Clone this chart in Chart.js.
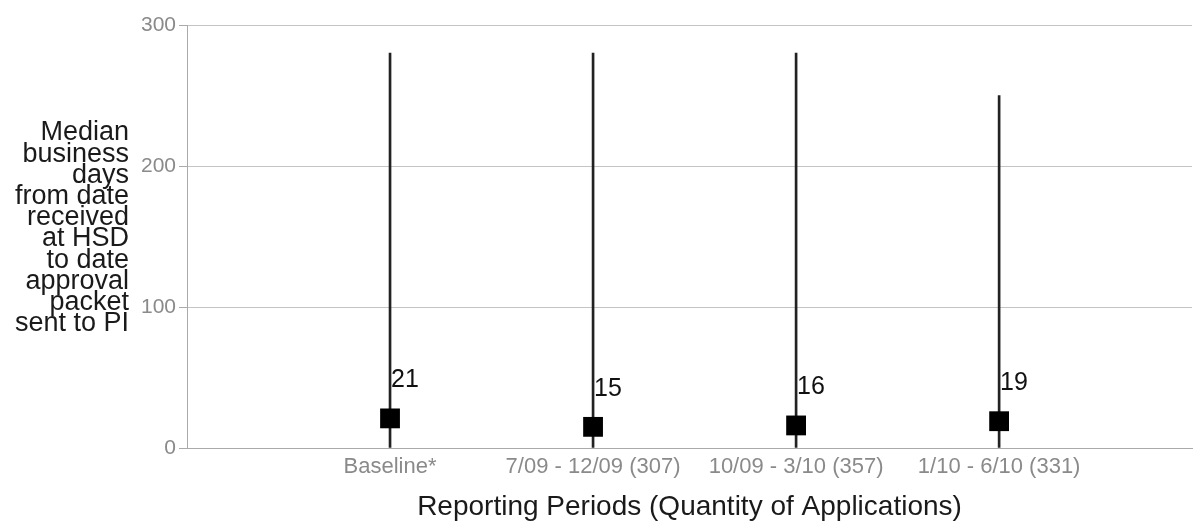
<!DOCTYPE html>
<html>
<head>
<meta charset="utf-8">
<script src="https://cdn.jsdelivr.net/npm/chart.js@4/dist/chart.umd.min.js"></script>
<style>
  html, body { margin: 0; padding: 0; background: #ffffff; overflow: hidden; }
  #wrap { width: 1193px; height: 525px; position: relative; overflow: hidden; }
  #c { display: block; }
</style>
</head>
<body>
<div id="wrap"><canvas id="c" width="1206" height="525"></canvas></div>
<script>
const categories = ['Baseline*', '7/09 - 12/09 (307)', '10/09 - 3/10 (357)', '1/10 - 6/10 (331)'];
const medians = [21, 15, 16, 19];
const rangeLow = [0, 0, 0, 0];
const rangeHigh = [280, 280, 280, 250];
const yTicks = [0, 100, 200, 300];
const yTitleLines = ['Median', 'business', 'days', 'from date', 'received', 'at HSD', 'to date', 'approval', 'packet', 'sent to PI'];
const xTitle = 'Reporting Periods (Quantity of Applications)';

const FONT = "'Liberation Sans', Arial, Helvetica, sans-serif";

const rangeData = categories.map((c, i) => ({ x: i + 1, y: [rangeLow[i], rangeHigh[i]] }));
const medianData = categories.map((c, i) => ({ x: i + 1, y: medians[i] }));

const valueLabels = {
  id: 'valueLabels',
  afterDatasetsDraw(chart) {
    const meta = chart.getDatasetMeta(1);
    const ctx = chart.ctx;
    ctx.save();
    ctx.font = '25px ' + FONT;
    ctx.fillStyle = '#111';
    ctx.textAlign = 'left';
    ctx.textBaseline = 'alphabetic';
    meta.data.forEach((pt, i) => {
      ctx.fillText(String(medians[i]), pt.x + 1, pt.y - 31);
    });
    ctx.restore();
  }
};

const yTitlePlugin = {
  id: 'yTitlePlugin',
  afterDraw(chart) {
    const ctx = chart.ctx;
    ctx.save();
    ctx.font = '27px ' + FONT;
    ctx.fillStyle = '#1a1a1a';
    ctx.textAlign = 'right';
    ctx.textBaseline = 'middle';
    yTitleLines.forEach((line, i) => {
      ctx.fillText(line, 129, 133 + i * 21.2);
    });
    ctx.restore();
  }
};

new Chart(document.getElementById('c'), {
  type: 'bar',
  data: {
    datasets: [
      {
        type: 'bar',
        data: rangeData,
        backgroundColor: '#222222',
        borderWidth: 0,
        barThickness: 2,
        grouped: false,
        order: 2
      },
      {
        type: 'scatter',
        data: medianData,
        pointStyle: 'rect',
        pointRadius: 14,
        pointHoverRadius: 14,
        backgroundColor: '#000000',
        borderWidth: 0,
        showLine: false,
        order: 0
      }
    ]
  },
  options: {
    responsive: false,
    animation: false,
    events: [],
    layout: { padding: { top: 25, right: 0, bottom: 1, left: 0 } },
    plugins: { legend: { display: false }, tooltip: { enabled: false } },
    scales: {
      x: {
        type: 'linear',
        offset: false,
        min: 0,
        max: 4.95,
        afterBuildTicks(scale) {
          scale.ticks = categories.map((c, i) => ({ value: i + 1 }));
        },
        afterFit(scale) { scale.paddingLeft = 0; scale.paddingRight = 0; },
        grid: { display: false, drawTicks: false, offset: false },
        border: { display: true, color: '#aaaaaa', width: 1 },
        ticks: {
          autoSkip: false,
          maxRotation: 0,
          minRotation: 0,
          padding: 6,
          color: '#8a8a8a',
          font: { family: FONT, size: 22 },
          callback: (v) => categories[v - 1] || ''
        },
        title: {
          display: true,
          text: xTitle,
          color: '#1a1a1a',
          font: { family: FONT, size: 28 },
          padding: { top: 4, bottom: 0 }
        }
      },
      y: {
        min: 0,
        max: 300,
        afterBuildTicks(scale) {
          scale.ticks = yTicks.map(v => ({ value: v }));
        },
        afterFit(scale) { scale.width = 187; },
        grid: { color: '#c4c4c4', lineWidth: 1, drawTicks: true, tickLength: 8, tickColor: '#aaaaaa' },
        border: { display: true, color: '#aaaaaa', width: 1 },
        ticks: {
          padding: 3,
          color: '#8a8a8a',
          font: { family: FONT, size: 21 }
        }
      }
    }
  },
  plugins: [valueLabels, yTitlePlugin]
});
</script>
</body>
</html>
